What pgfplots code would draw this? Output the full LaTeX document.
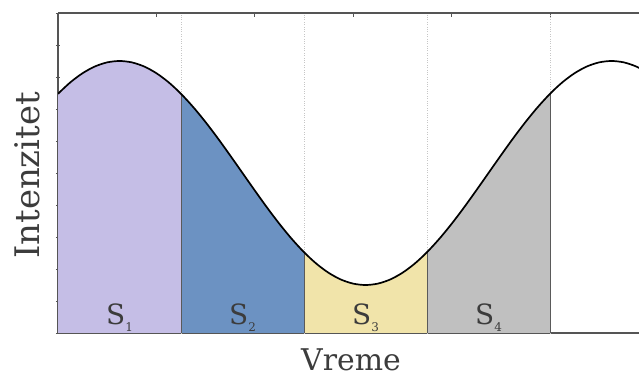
\documentclass[border=0pt]{standalone}
\usepackage{pgfplots}
\pgfplotsset{compat=1.18}
\usepackage{fontspec}
\setmainfont{DejaVu Serif}
\definecolor{sA}{RGB}{197,190,230}
\definecolor{sB}{RGB}{108,146,194}
\definecolor{sC}{RGB}{241,228,170}
\definecolor{sD}{RGB}{192,192,192}
\definecolor{axgray}{RGB}{85,85,85}
\definecolor{bnd}{RGB}{90,90,90}
\definecolor{txt}{RGB}{60,60,60}
\begin{document}
\begin{tikzpicture}
\begin{axis}[
  scale only axis, width=581bp, height=320bp,
  xmin=0, xmax=4.7236, ymin=0, ymax=10,
  axis x line=box, axis y line=left,
  axis line style={-, draw=axgray, line width=1.1bp},
  every outer x axis line/.append style={-},
  every outer y axis line/.append style={-},
  xtick={0,0.8,1.6,2.4,3.2,4.0}, ytick={0,1,2,3,4,5,6,7,8,9,10},
  xticklabels={}, yticklabels={},
  major tick length=4bp,
  tick style={draw=axgray, line width=0.8bp},
  extra x ticks={1,2,3,4}, extra x tick labels={},
  extra x tick style={major tick length=0pt, grid=major, major grid style={dotted, draw=gray!45, line width=0.6bp}},
]
\addplot[fill=sA, draw=none] coordinates {(0,7.475) (0.1,7.832) (0.2,8.119) (0.3,8.329) (0.4,8.457) (0.5,8.5) (0.6,8.457) (0.7,8.329) (0.8,8.119) (0.9,7.832) (1.0,7.475)} \closedcycle;
\addplot[fill=sB, draw=none] coordinates {(1.0,7.475) (1.1,7.057) (1.2,6.589) (1.3,6.082) (1.4,5.547) (1.5,5.0) (1.6,4.453) (1.7,3.918) (1.8,3.411) (1.9,2.943) (2.0,2.525)} \closedcycle;
\addplot[fill=sC, draw=none] coordinates {(2.0,2.525) (2.1,2.168) (2.2,1.881) (2.3,1.671) (2.4,1.543) (2.5,1.5) (2.6,1.543) (2.7,1.671) (2.8,1.881) (2.9,2.168) (3.0,2.525)} \closedcycle;
\addplot[fill=sD, draw=none] coordinates {(3.0,2.525) (3.1,2.943) (3.2,3.411) (3.3,3.918) (3.4,4.453) (3.5,5.0) (3.6,5.547) (3.7,6.082) (3.8,6.589) (3.9,7.057) (4.0,7.475)} \closedcycle;
\addplot[draw=bnd, line width=1bp] coordinates {(1,0) (1,7.475)};
\addplot[draw=bnd, line width=1bp] coordinates {(2,0) (2,2.525)};
\addplot[draw=bnd, line width=1bp] coordinates {(3,0) (3,2.525)};
\addplot[draw=bnd, line width=1bp] coordinates {(4,0) (4,7.475)};
\addplot[black, line width=1.7bp, smooth] coordinates {(0,7.475) (0.1,7.832) (0.2,8.119) (0.3,8.329) (0.4,8.457) (0.5,8.5) (0.6,8.457) (0.7,8.329) (0.8,8.119) (0.9,7.832) (1.0,7.475) (1.1,7.057) (1.2,6.589) (1.3,6.082) (1.4,5.547) (1.5,5.0) (1.6,4.453) (1.7,3.918) (1.8,3.411) (1.9,2.943) (2.0,2.525) (2.1,2.168) (2.2,1.881) (2.3,1.671) (2.4,1.543) (2.5,1.5) (2.6,1.543) (2.7,1.671) (2.8,1.881) (2.9,2.168) (3.0,2.525) (3.1,2.943) (3.2,3.411) (3.3,3.918) (3.4,4.453) (3.5,5.0) (3.6,5.547) (3.7,6.082) (3.8,6.589) (3.9,7.057) (4.0,7.475) (4.1,7.832) (4.2,8.119) (4.3,8.329) (4.4,8.457) (4.5,8.5) (4.6,8.457) (4.7,8.329) (4.8,8.119)};
\node[anchor=base, text=txt, font=\fontsize{28}{30}\selectfont] at (axis cs:0.5,0.28) {S\raisebox{-7bp}{\fontsize{12}{12}\selectfont 1}};
\node[anchor=base, text=txt, font=\fontsize{28}{30}\selectfont] at (axis cs:1.5,0.28) {S\raisebox{-7bp}{\fontsize{12}{12}\selectfont 2}};
\node[anchor=base, text=txt, font=\fontsize{28}{30}\selectfont] at (axis cs:2.5,0.28) {S\raisebox{-7bp}{\fontsize{12}{12}\selectfont 3}};
\node[anchor=base, text=txt, font=\fontsize{28}{30}\selectfont] at (axis cs:3.5,0.28) {S\raisebox{-7bp}{\fontsize{12}{12}\selectfont 4}};
\end{axis}
\node[anchor=base, text=txt, font=\fontsize{30}{34}\selectfont] at (293bp,-37bp) {Vreme};
\node[anchor=base, rotate=90, text=txt, font=\fontsize{34}{38}\selectfont] at (-19bp,157.5bp) {Intenzitet};
\pgfresetboundingbox
\path (-58bp,-43bp) rectangle (581bp,333bp);
\end{tikzpicture}
\end{document}
